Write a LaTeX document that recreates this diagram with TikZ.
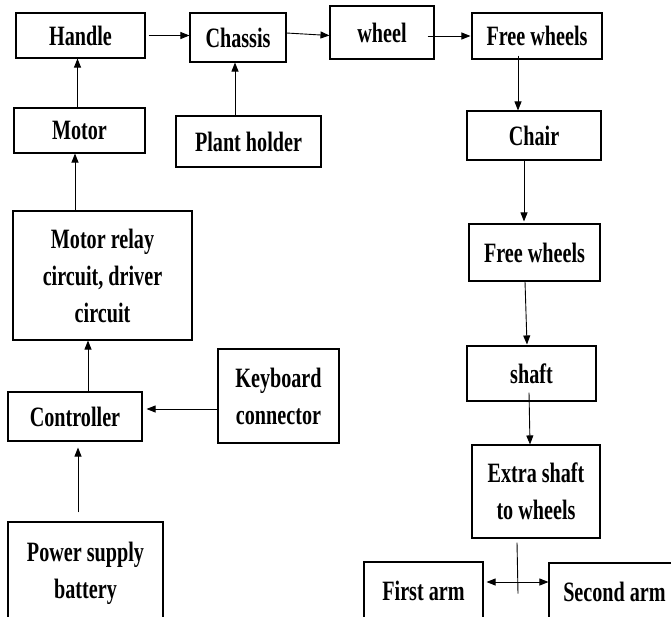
\documentclass[tikz,border=0pt]{standalone}
\usepackage{fontspec}
\newfontfamily\tnr{Liberation Serif}[FakeStretch=0.72]
\usetikzlibrary{arrows.meta}
\begin{document}
\begin{tikzpicture}[x=1pt,y=-1pt,
  bx/.style 2 args={draw, line width=1.1pt, minimum width=#1pt, minimum height=#2pt,
    inner sep=0pt, align=center, font=\tnr\bfseries\fontsize{28}{37}\selectfont},
  arr/.style={-{Triangle[length=9pt,width=7pt]}, line width=0.9pt},
  dbl/.style={{Triangle[length=9pt,width=7pt]}-{Triangle[length=9pt,width=7pt]}, line width=0.9pt},
  plain/.style={line width=0.9pt}]
\useasboundingbox (0,0) rectangle (671,616);
% top row
\node[bx={129}{45}] (handle) at (80.5,35.5) {Handle};
\node[bx={96}{49}] (chassis) at (238,37.5) {Chassis};
\node[bx={104}{53}] (wheel) at (382,32.5) {wheel};
\node[bx={130}{46}] (fwa) at (537,36) {Free wheels};
% right column
\node[bx={134}{49}] (chair) at (534,135.5) {Chair};
\node[bx={131}{57}] (fwb) at (534.5,252.5) {Free wheels};
\node[bx={129}{55}] (shaft) at (531.5,373.5) {shaft};
\node[bx={128}{93}] (extra) at (536,491.5) {Extra shaft\\to wheels};
\node[bx={119}{58}] (first) at (423.5,591) {First arm};
\node[bx={131}{58}] (second) at (614.5,592) {Second arm};
% left column
\node[bx={131}{45}] (motor) at (79.5,130.5) {Motor};
\node[bx={145}{51}] (plant) at (248.5,141.5) {Plant holder};
\node[bx={179}{129}] (relay) at (102.5,275.5) {Motor relay\\circuit, driver\\circuit};
\node[bx={134}{49}] (ctrl) at (75,416.5) {Controller};
\node[bx={121}{94}] (kbd) at (278.5,396) {Keyboard\\connector};
\node[bx={155}{103}] (power) at (85.5,573.5) {Power supply\\battery};
% connectors top row
\draw[arr] ([xshift=3pt]handle.east) -- (handle.east -| chassis.west);
\draw[arr] ([yshift=4.5pt]chassis.east) -- ([yshift=-3pt]wheel.west);
\draw[arr] ([xshift=-7pt]wheel.east |- fwa.west) -- ([xshift=-1pt]fwa.west);
% right column
\draw[arr] ([xshift=-19pt,yshift=4pt]fwa.south) -- ([xshift=-19pt]fwa.south |- chair.north);
\draw[arr] ([xshift=-10pt]chair.south) -- ([xshift=-10pt,yshift=2pt]chair.south |- fwb.north);
\draw[arr] ([xshift=-9.5pt]fwb.south) -- ([xshift=-4.5pt,yshift=1pt]shaft.north);
\draw[arr] ([xshift=-2.5pt,yshift=9pt]shaft.south) -- ([xshift=-6pt]extra.north);
\draw[plain] ([xshift=-19pt,yshift=-4pt]extra.south) -- ++(1,51);
\draw[dbl] ([xshift=3pt,yshift=9pt]first.east) -- ([yshift=9pt]first.east -| second.west);
% left column
\draw[arr] ([xshift=-3pt]handle.south |- motor.north) -- ([xshift=-3pt]handle.south);
\draw[arr] ([xshift=-3pt]chassis.south |- plant.north) -- ([xshift=-3pt]chassis.south);
\draw[arr] ([xshift=-4.5pt]motor.south |- relay.north) -- ([xshift=-4.5pt]motor.south);
\draw[arr] ([xshift=13pt]ctrl.north) -- ([xshift=13pt]ctrl.north |- relay.south);
\draw[arr] ([yshift=-13pt]kbd.west) -- ([xshift=4pt,yshift=-13pt]kbd.west -| ctrl.east);
\draw[arr] ([xshift=3pt,yshift=9pt]power.north -| ctrl.south) -- ([xshift=3pt,yshift=-6pt]ctrl.south);
\end{tikzpicture}
\end{document}
